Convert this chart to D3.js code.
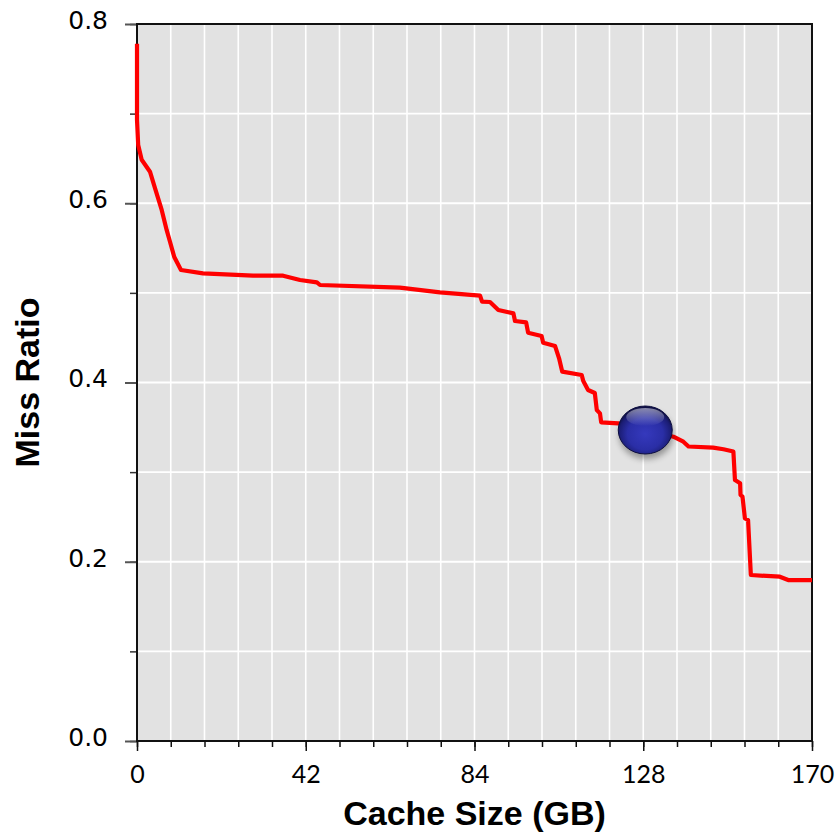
<!DOCTYPE html>
<html>
<head>
<meta charset="utf-8">
<script src="https://cdn.jsdelivr.net/npm/d3@7"></script>
<style>
  html, body { margin: 0; padding: 0; background: #ffffff; }
  svg { display: block; }
</style>
</head>
<body>
<svg id="chart" width="835" height="833"></svg>
<script>
// ---- data ----
const cacheSizeGB = [0, 0, 0.3, 1.18, 3.27, 4.53, 6.22, 7.48, 8.31, 9.39, 11.08, 16.62, 29.2, 36.8, 41.05, 45.3, 46.1, 66.2, 76.3, 86.4, 86.9, 88.9, 91.0, 94.8, 95.2, 98.0, 98.5, 101.9, 102.3, 105.3, 106.3, 107.1, 112.0, 112.4, 113.6, 115.3, 115.8, 116.6, 116.9, 121.2, 128.0, 135.1, 137.6, 138.9, 145.1, 147.7, 150.2, 150.6, 151.9, 152.0, 152.5, 153.1, 153.9, 154.6, 161.9, 164.0, 170];
const missRatio   = [0.778, 0.693, 0.665, 0.6486, 0.6352, 0.617, 0.5926, 0.570, 0.557, 0.540, 0.5255, 0.5218, 0.5192, 0.5192, 0.5144, 0.5118, 0.5088, 0.5058, 0.5006, 0.4969, 0.4902, 0.4898, 0.4809, 0.4771, 0.4686, 0.4671, 0.4556, 0.4519, 0.4444, 0.4407, 0.4270, 0.4121, 0.4084, 0.4017, 0.3916, 0.3883, 0.3693, 0.3656, 0.3556, 0.3545, 0.347, 0.3395, 0.3339, 0.3286, 0.3273, 0.3255, 0.3230, 0.2912, 0.2875, 0.2745, 0.2726, 0.2485, 0.2466, 0.1852, 0.1833, 0.1796, 0.1796];
const markerSize  = [128];
const markerRatio = [0.347];
const xTickValues = [0, 42.5, 85, 127.5, 170];
const xTickLabels = ["0", "42", "84", "128", "170"];
const xMinorStep  = 8.5;
const yTickValues = [0, 0.2, 0.4, 0.6, 0.8];
const yTickLabels = ["0.0", "0.2", "0.4", "0.6", "0.8"];
const yMinorStep  = 0.1;
const xTitle = "Cache Size (GB)";
const yTitle = "Miss Ratio";

// ---- layout ----
const svg = d3.select("#chart");
const L = 137, R = 812, T = 24, B = 741;
const x = d3.scaleLinear().domain([0, 170]).range([L, R]);
const y = d3.scaleLinear().domain([0, 0.8]).range([B, T]);

const xMinor = d3.range(0, 170 + 1e-9, xMinorStep);
const yMinor = d3.range(0, 0.8 + 1e-9, yMinorStep);

// defs
const defs = svg.append("defs");
const rg = defs.append("radialGradient").attr("id", "ballGrad")
  .attr("cx", "50%").attr("cy", "58%").attr("r", "55%");
rg.append("stop").attr("offset", "0%").attr("stop-color", "#3539bd");
rg.append("stop").attr("offset", "60%").attr("stop-color", "#2a2ea6");
rg.append("stop").attr("offset", "88%").attr("stop-color", "#1b1d74");
rg.append("stop").attr("offset", "100%").attr("stop-color", "#0f1045");
const hg = defs.append("linearGradient").attr("id", "hlGrad")
  .attr("x1", 0).attr("y1", 0).attr("x2", 0).attr("y2", 1);
hg.append("stop").attr("offset", "0%").attr("stop-color", "#ffffff").attr("stop-opacity", 0.5);
hg.append("stop").attr("offset", "100%").attr("stop-color", "#ffffff").attr("stop-opacity", 0.0);
const blur = defs.append("filter").attr("id", "shadowBlur")
  .attr("x", "-50%").attr("y", "-50%").attr("width", "200%").attr("height", "200%");
blur.append("feGaussianBlur").attr("stdDeviation", 3);

// plot background
svg.append("rect").attr("x", L).attr("y", T).attr("width", R - L).attr("height", B - T)
  .attr("fill", "#e2e2e2");

// grid
svg.append("g").selectAll("line").data(xMinor).join("line")
  .attr("x1", d => x(d)).attr("x2", d => x(d)).attr("y1", T).attr("y2", B)
  .attr("stroke", "#ffffff").attr("stroke-width", 1.6);
svg.append("g").selectAll("line").data(yMinor).join("line")
  .attr("x1", L).attr("x2", R).attr("y1", d => y(d)).attr("y2", d => y(d))
  .attr("stroke", "#ffffff").attr("stroke-width", 1.8);

// y axis ticks (major + minor) via d3 axis
const yAxisMinor = d3.axisLeft(y).tickValues(yMinor).tickSize(7).tickFormat("");
const gyMinor = svg.append("g").attr("transform", `translate(${L},0)`).call(yAxisMinor);
gyMinor.select(".domain").remove();
gyMinor.selectAll(".tick line").attr("stroke", "#333").attr("stroke-width", 1.5);

const yAxis = d3.axisLeft(y).tickValues(yTickValues).tickSize(12)
  .tickPadding(17).tickFormat((d, i) => yTickLabels[i]);
const gy = svg.append("g").attr("transform", `translate(${L},0)`).call(yAxis);
gy.select(".domain").remove();
gy.selectAll(".tick line").attr("stroke", "#555").attr("stroke-width", 2);
gy.selectAll(".tick text")
  .attr("font-family", "'DejaVu Sans', sans-serif").attr("font-size", 25)
  .attr("fill", "#000").attr("dy", "0.17em");

// x axis ticks
const xAxisMinor = d3.axisBottom(x).tickValues(xMinor).tickSize(6).tickFormat("");
const gxMinor = svg.append("g").attr("transform", `translate(0,${B})`).call(xAxisMinor);
gxMinor.select(".domain").remove();
gxMinor.selectAll(".tick line").attr("stroke", "#111").attr("stroke-width", 1.5);

const xAxis = d3.axisBottom(x).tickValues(xTickValues).tickSize(10)
  .tickPadding(14).tickFormat((d, i) => xTickLabels[i]);
const gx = svg.append("g").attr("transform", `translate(0,${B})`).call(xAxis);
gx.select(".domain").remove();
gx.selectAll(".tick line").attr("stroke", "#111").attr("stroke-width", 1.5);
gx.selectAll(".tick text")
  .attr("font-family", "Lato, 'Open Sans', sans-serif").attr("font-size", 25)
  .attr("fill", "#000");

// frame
svg.append("rect").attr("x", L).attr("y", T).attr("width", R - L).attr("height", B - T)
  .attr("fill", "none").attr("stroke", "#111").attr("stroke-width", 2);

// the curve
const pts = cacheSizeGB.map((d, i) => [d, missRatio[i]]);
const line = d3.line().x(d => x(d[0])).y(d => y(d[1])).curve(d3.curveLinear);
svg.append("path").datum(pts).attr("d", line)
  .attr("fill", "none").attr("stroke", "#ff0000").attr("stroke-width", 4.2)
  .attr("stroke-linejoin", "round").attr("stroke-linecap", "butt");

// marker ball
const mk = markerSize.map((d, i) => [d, markerRatio[i]]);
const gm = svg.append("g");
gm.selectAll("ellipse.shadow").data(mk).join("ellipse").attr("class", "shadow")
  .attr("cx", d => x(d[0]) + 1).attr("cy", d => y(d[1]) + 5)
  .attr("rx", 27).attr("ry", 24).attr("fill", "#000").attr("opacity", 0.35)
  .attr("filter", "url(#shadowBlur)");
gm.selectAll("ellipse.ball").data(mk).join("ellipse").attr("class", "ball")
  .attr("cx", d => x(d[0])).attr("cy", d => y(d[1]))
  .attr("rx", 27).attr("ry", 24).attr("fill", "url(#ballGrad)")
  .attr("stroke", "#0d0e40").attr("stroke-width", 1);
gm.selectAll("ellipse.hl").data(mk).join("ellipse").attr("class", "hl")
  .attr("cx", d => x(d[0])).attr("cy", d => y(d[1]) - 13)
  .attr("rx", 19).attr("ry", 9).attr("fill", "url(#hlGrad)");

// axis titles
svg.append("text").attr("x", (L + R) / 2).attr("y", 825)
  .attr("text-anchor", "middle")
  .attr("font-family", "'Liberation Sans', Arial, sans-serif")
  .attr("font-weight", "bold").attr("font-size", 34).attr("fill", "#000")
  .text(xTitle);
svg.append("text")
  .attr("transform", `translate(39,${(T + B) / 2}) rotate(-90)`)
  .attr("text-anchor", "middle")
  .attr("font-family", "'Liberation Sans', Arial, sans-serif")
  .attr("font-weight", "bold").attr("font-size", 34).attr("fill", "#000")
  .text(yTitle);
</script>
</body>
</html>
